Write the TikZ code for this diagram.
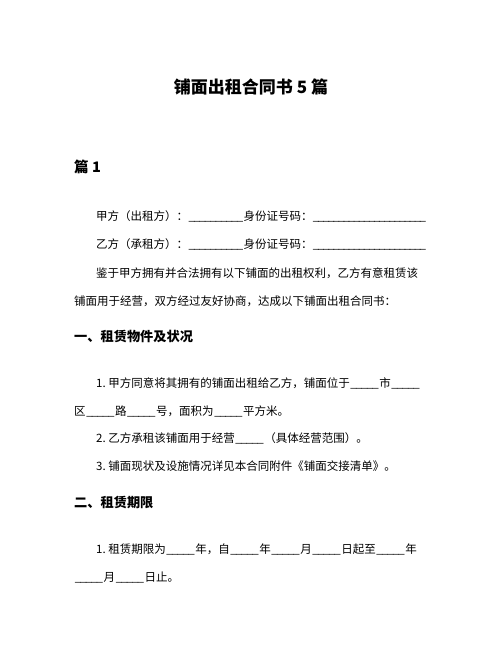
\documentclass[tikz,border=0pt]{standalone}
\usepackage{fontspec}
\setmainfont{Noto Sans CJK SC}
\newcommand\blank[1]{\hbox to #1pt{\xleaders\hbox{\_\kern-1.5pt}\hfill}\kern1.5pt}
\begin{document}
\begin{tikzpicture}[x=1pt,y=-1pt,
  body/.style={anchor=west,inner sep=0pt,font=\fontsize{11.5}{14}\selectfont},
  head/.style={anchor=west,inner sep=0pt,font=\fontsize{13.2}{16}\selectfont\bfseries},
  ttl/.style={anchor=center,inner sep=0pt,font=\fontsize{17}{20}\selectfont\bfseries}]
\useasboundingbox[fill=white] (0,0) rectangle (502,649);
\node[ttl] (title) at (251,87) {铺面出租合同书 5 篇};
\node[head,font=\fontsize{14.5}{16}\selectfont\bfseries] (p1) at (74,167) {篇 1};
\node[body] (l1) at (96,216) {甲方（出租方）：\blank{54}身份证号码：\blank{112}};
\node[body] (l2) at (96,244) {乙方（承租方）：\blank{54}身份证号码：\blank{112}};
\node[body] (l3) at (96,273) {鉴于甲方拥有并合法拥有以下铺面的出租权利，乙方有意租赁该};
\node[body] (l4) at (74,301) {铺面用于经营，双方经过友好协商，达成以下铺面出租合同书：};
\node[head] (h1) at (74,337) {一、租赁物件及状况};
\node[body] (a1) at (96,383) {1.\ 甲方同意将其拥有的铺面出租给乙方，铺面位于\blank{28}市\blank{28}};
\node[body] (a1b) at (74,411) {区\blank{28}路\blank{28}号，面积为\blank{28}平方米。};
\node[body] (a2) at (96,438) {2.\ 乙方承租该铺面用于经营\blank{28}（具体经营范围）。};
\node[body] (a3) at (96,466) {3.\ 铺面现状及设施情况详见本合同附件《铺面交接清单》。};
\node[head] (h2) at (74,503) {二、租赁期限};
\node[body] (b1) at (96,549) {1.\ 租赁期限为\blank{28}年，自\blank{28}年\blank{28}月\blank{28}日起至\blank{28}年};
\node[body] (b1b) at (74,577) {\blank{28}月\blank{28}日止。};
\end{tikzpicture}
\end{document}
